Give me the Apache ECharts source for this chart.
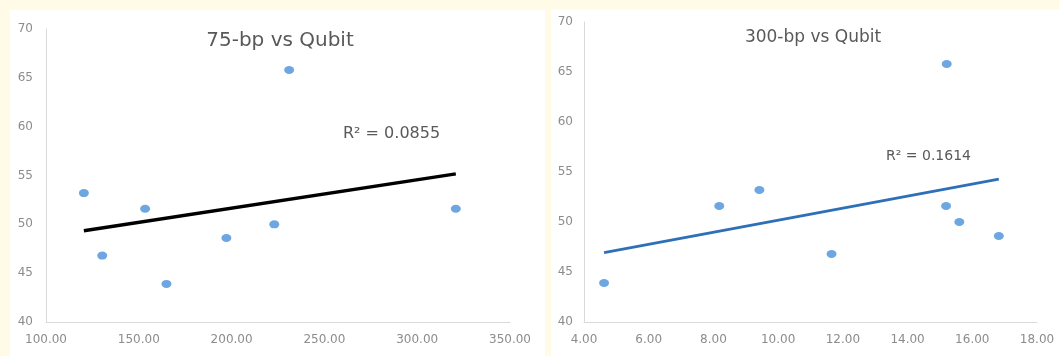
<!DOCTYPE html>
<html>
<head>
<meta charset="utf-8">
<script src="https://cdn.jsdelivr.net/npm/echarts@6/dist/echarts.min.js"></script>
<style>
  html, body { margin: 0; padding: 0; background: #fffbe6; }
  #main { width: 1059px; height: 356px; }
</style>
</head>
<body>
<div id="main"></div>
<script>
// Qubit values (y) shared by both panels, paired by sample index
var qubit = [53.2, 46.8, 51.6, 43.9, 48.6, 50.0, 65.8, 51.6];
var bp75 = [120.4, 130.3, 153.4, 164.9, 197.2, 223.0, 231.0, 320.8];
var bp300 = [9.42, 11.65, 8.18, 4.62, 16.82, 15.6, 15.21, 15.19];
var titles = ['75-bp vs Qubit', '300-bp vs Qubit'];
var r2Labels = ['R\u00b2 = 0.0855', 'R\u00b2 = 0.1614'];

function pairs(xs, ys) {
    return xs.map(function (x, i) { return [x, ys[i]]; });
}

// least squares trend line between min and max x
function trend(xs, ys) {
    var n = xs.length, mx = 0, my = 0, sxy = 0, sxx = 0;
    for (var i = 0; i < n; i++) { mx += xs[i]; my += ys[i]; }
    mx /= n; my /= n;
    for (var j = 0; j < n; j++) {
        sxy += (xs[j] - mx) * (ys[j] - my);
        sxx += (xs[j] - mx) * (xs[j] - mx);
    }
    var b = sxy / sxx, a = my - b * mx;
    var x0 = Math.min.apply(null, xs), x1 = Math.max.apply(null, xs);
    return [[x0, a + b * x0], [x1, a + b * x1]];
}

var font = 'DejaVu Sans';
var labelColor = '#8c8c8c';
var axisLine = {show: true, lineStyle: {color: '#d9d9d9', width: 1}};

function xAxis(idx, min, max, interval, margin) {
    return {
        type: 'value', gridIndex: idx, min: min, max: max, interval: interval,
        axisLine: axisLine, axisTick: {show: false}, splitLine: {show: false},
        axisLabel: {
            color: labelColor, fontFamily: font, fontSize: 12, margin: margin,
            formatter: function (v) { return v.toFixed(2); }
        }
    };
}
function yAxis(idx, margin) {
    return {
        type: 'value', gridIndex: idx, min: 40, max: 70, interval: 5,
        axisLine: axisLine, axisTick: {show: false}, splitLine: {show: false},
        axisLabel: {color: labelColor, fontFamily: font, fontSize: 12, margin: margin}
    };
}

var myChart = echarts.init(document.getElementById('main'));
var option = {
    backgroundColor: '#fffbe6',
    animation: false,
    graphic: [
        {type: 'rect', z: -10, shape: {x: 10, y: 10, width: 535, height: 346}, style: {fill: '#ffffff'}},
        {type: 'rect', z: -10, shape: {x: 551, y: 9, width: 508, height: 347}, style: {fill: '#ffffff'}},
        {type: 'text', left: 343, top: 126, style: {text: r2Labels[0], fill: '#595959', font: '16px "DejaVu Sans"'}},
        {type: 'text', left: 886, top: 149, style: {text: r2Labels[1], fill: '#595959', font: '14px "DejaVu Sans"'}}
    ],
    title: [
        {text: titles[0], left: 275, top: 26, textAlign: 'center',
            textStyle: {color: '#595959', fontFamily: font, fontSize: 20, fontWeight: 'normal'}},
        {text: titles[1], left: 808, top: 24, textAlign: 'center',
            textStyle: {color: '#595959', fontFamily: font, fontSize: 17, fontWeight: 'normal'}}
    ],
    grid: [
        {left: 46, top: 29, width: 464, height: 293},
        {left: 584, top: 22, width: 453, height: 300}
    ],
    xAxis: [xAxis(0, 100, 350, 50, 12), xAxis(1, 4, 18, 2, 12)],
    yAxis: [yAxis(0, 13), yAxis(1, 11)],
    series: [
        {type: 'scatter', xAxisIndex: 0, yAxisIndex: 0, symbolSize: [10, 8],
            itemStyle: {color: '#4a90d9'}, data: pairs(bp75, qubit), z: 3},
        {type: 'line', xAxisIndex: 0, yAxisIndex: 0, symbol: 'none',
            lineStyle: {color: '#000000', width: 3.5}, data: trend(bp75, qubit), z: 2},
        {type: 'scatter', xAxisIndex: 1, yAxisIndex: 1, symbolSize: [10, 8],
            itemStyle: {color: '#4a90d9'}, data: pairs(bp300, qubit), z: 3},
        {type: 'line', xAxisIndex: 1, yAxisIndex: 1, symbol: 'none',
            lineStyle: {color: '#2e70b8', width: 2.8}, data: trend(bp300, qubit), z: 2}
    ]
};
myChart.setOption(option);
</script>
</body>
</html>
